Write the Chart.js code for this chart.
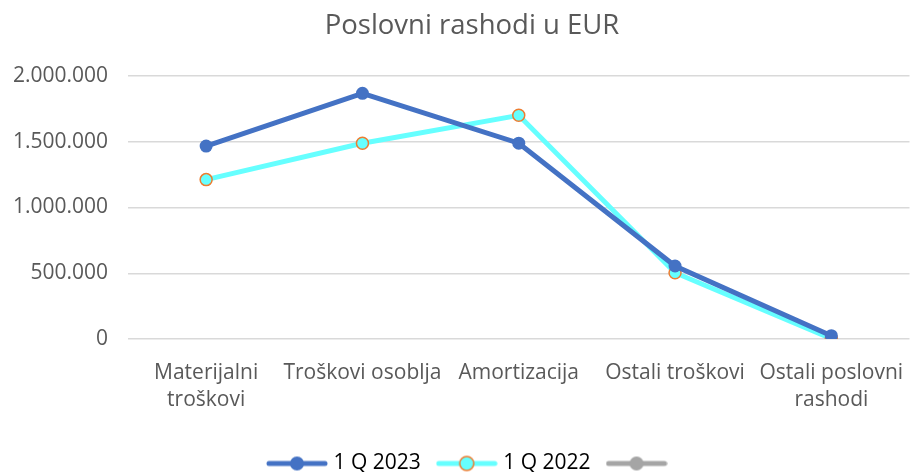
<!DOCTYPE html>
<html>
<head>
<meta charset="utf-8">
<script src="https://cdn.jsdelivr.net/npm/chart.js@4/dist/chart.umd.min.js"></script>
<style>
  html, body { margin: 0; padding: 0; background: #fff; }
  #wrap { width: 917px; height: 472px; position: relative; }
</style>
</head>
<body>
<div id="wrap"><canvas id="chart"></canvas></div>
<script>
(function () {
    'use strict';

    var categories = [
        ['Materijalni', 'troškovi'],
        'Troškovi osoblja',
        'Amortizacija',
        'Ostali troškovi',
        ['Ostali poslovni', 'rashodi']
    ];
    var q2023 = [1467000, 1868000, 1489000, 555000, 25000];
    var q2022 = [1212000, 1489000, 1701000, 504000, 3000];
    var yTicks = [0, 500000, 1000000, 1500000, 2000000];

    var FONT = '"Open Sans", "Noto Sans", sans-serif';

    function fmt(v) {
        return String(v).replace(/\B(?=(\d{3})+(?!\d))/g, '.');
    }

    function legendIcon(lineColor, fill, border) {
        var c = document.createElement('canvas');
        c.width = 62; c.height = 18;
        var g = c.getContext('2d');
        g.strokeStyle = lineColor;
        g.lineWidth = 5;
        g.lineCap = 'round';
        g.beginPath();
        g.moveTo(3, 9); g.lineTo(59, 9);
        g.stroke();
        g.beginPath();
        g.arc(31, 9, 7, 0, Math.PI * 2);
        g.fillStyle = fill;
        g.fill();
        if (border) {
            g.lineWidth = 1.5;
            g.strokeStyle = border;
            g.stroke();
        }
        return c;
    }

    var icons = [
        legendIcon('#4472C4', '#4472C4'),
        legendIcon('#66FFFF', '#66FFFF', '#ED7D31'),
        legendIcon('#A5A5A5', '#A5A5A5')
    ];

    // y labels stick out left of the axis box; let them draw there
    var widenLabelClip = {
        id: 'widenLabelClip',
        afterLayout: function (chart) {
            chart.scales.y.left = 0;
        }
    };

    new Chart(document.getElementById('chart'), {
        type: 'line',
        data: {
            labels: categories,
            datasets: [{
                label: '1 Q 2023',
                data: q2023,
                borderColor: '#4472C4',
                backgroundColor: '#4472C4',
                borderWidth: 5,
                pointRadius: 6.5,
                pointBorderWidth: 0,
                pointBackgroundColor: '#4472C4',
                tension: 0
            }, {
                label: '1 Q 2022',
                data: q2022,
                borderColor: '#66FFFF',
                backgroundColor: '#66FFFF',
                borderWidth: 5,
                pointRadius: 6,
                pointBorderWidth: 1.5,
                pointBorderColor: '#ED7D31',
                pointBackgroundColor: '#66FFFF',
                tension: 0
            }, {
                label: '',
                data: [],
                borderColor: '#A5A5A5',
                backgroundColor: '#A5A5A5'
            }]
        },
        plugins: [widenLabelClip],
        options: {
            responsive: true,
            maintainAspectRatio: false,
            animation: false,
            layout: { padding: { left: 20, right: -7, top: 0, bottom: -12 } },
            scales: {
                x: {
                    offset: true,
                    grid: { display: false },
                    border: { display: false },
                    afterFit: function (scale) {
                        scale.height = 94;
                        scale.paddingLeft = -10;
                        scale.paddingRight = -10;
                    },
                    ticks: {
                        color: '#595959',
                        font: { family: FONT, size: 21, lineHeight: 1.3 },
                        maxRotation: 0,
                        autoSkip: false,
                        padding: 12
                    }
                },
                y: {
                    min: 0,
                    max: 2000000,
                    afterBuildTicks: function (axis) {
                        axis.ticks = yTicks.map(function (v) { return { value: v }; });
                    },
                    afterFit: function (scale) {
                        scale.width = 108;
                        scale.paddingLeft = 0;
                        scale.paddingRight = 0;
                    },
                    grid: { color: '#D9D9D9', lineWidth: 1.5, drawTicks: false },
                    border: { display: false },
                    ticks: {
                        color: '#595959',
                        font: { family: FONT, size: 21 },
                        padding: 20,
                        callback: function (v) { return fmt(v); }
                    }
                }
            },
            plugins: {
                title: {
                    display: true,
                    text: 'Poslovni rashodi u EUR',
                    color: '#595959',
                    font: { family: FONT, size: 27.5, weight: 'normal' },
                    padding: { top: 10, bottom: 33 }
                },
                legend: {
                    position: 'bottom',
                    labels: {
                        color: '#595959',
                        font: { family: FONT, size: 21 },
                        usePointStyle: true,
                        pointStyleWidth: 52,
                        padding: 20,
                        generateLabels: function (chart) {
                            return chart.data.datasets.map(function (ds, i) {
                                return {
                                    text: ds.label,
                                    pointStyle: icons[i],
                                    fillStyle: ds.backgroundColor,
                                    strokeStyle: ds.borderColor,
                                    lineWidth: 0,
                                    hidden: false,
                                    datasetIndex: i
                                };
                            });
                        }
                    }
                },
                tooltip: { enabled: false }
            }
        }
    });
})();
</script>
</body>
</html>
